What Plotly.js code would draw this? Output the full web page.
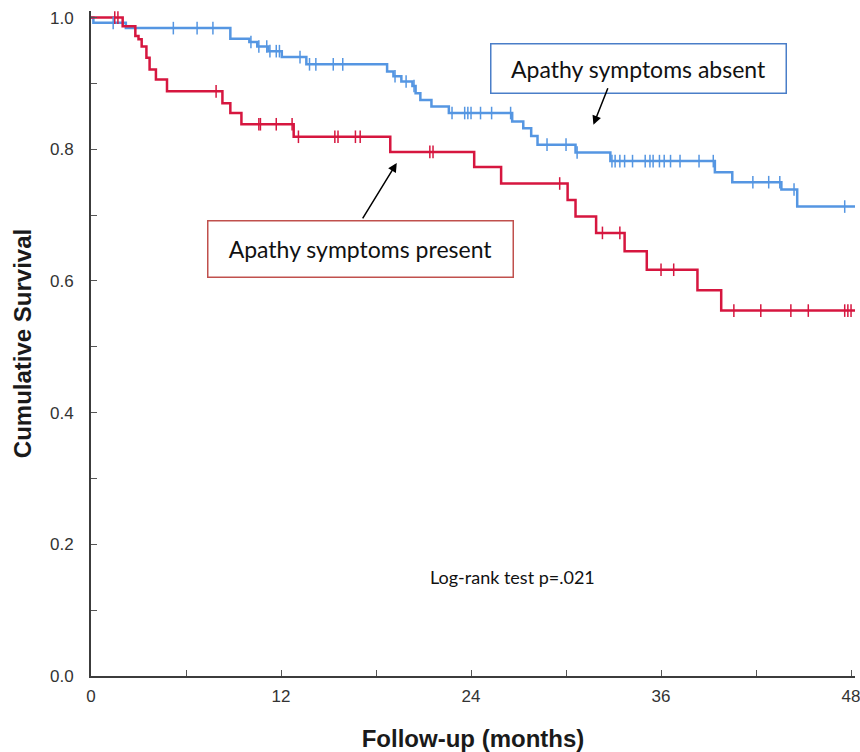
<!DOCTYPE html>
<html>
<head>
<meta charset="utf-8">
<script src="https://cdn.plot.ly/plotly-3.0.1.min.js"></script>
<style>
  html, body { margin: 0; padding: 0; background: #ffffff; }
  #chart { width: 860px; height: 752px; }
</style>
</head>
<body>
<div id="chart"></div>
<script>
// ---- Data ----
// Apathy symptoms absent: step times (months) and survival after each step
const absentTimes = [0, 0.15, 2.2, 8.8, 10.0, 10.5, 11.2, 12.05, 13.6, 18.7, 19.1, 19.6, 20.3, 20.5, 20.8, 21.5, 22.6, 26.6, 27.3, 27.8, 28.2, 30.6, 32.8, 39.4, 40.5, 43.6, 44.6, 48.25];
const absentSurv  = [1.0, 0.992, 0.984, 0.968, 0.963, 0.956, 0.949, 0.940, 0.929, 0.918, 0.911, 0.903, 0.896, 0.885, 0.875, 0.865, 0.855, 0.842, 0.832, 0.820, 0.807, 0.795, 0.782, 0.765, 0.750, 0.739, 0.713, 0.713];
const absentCensored = [1.4, 5.2, 6.7, 7.7, 10.1, 10.6, 11.1, 11.3, 11.7, 11.9, 13.2, 13.8, 14.2, 15.3, 15.9, 19.2, 19.9, 20.4, 22.8, 23.6, 23.8, 24.0, 24.6, 25.3, 26.5, 28.8, 30.0, 30.7, 32.9, 33.1, 33.4, 33.7, 34.2, 35.0, 35.3, 35.5, 35.9, 36.2, 36.6, 37.2, 38.4, 39.3, 41.8, 42.8, 43.5, 44.4, 47.6];

// Apathy symptoms present
const presentTimes = [0, 2.0, 2.8, 3.0, 3.2, 3.5, 3.7, 4.1, 4.8, 8.3, 8.8, 9.5, 12.8, 18.9, 24.2, 25.9, 30.1, 30.6, 31.9, 33.7, 35.1, 38.3, 39.8, 48.25];
const presentSurv  = [1.0, 0.987, 0.972, 0.967, 0.956, 0.939, 0.921, 0.906, 0.888, 0.870, 0.855, 0.838, 0.819, 0.796, 0.773, 0.748, 0.723, 0.698, 0.673, 0.645, 0.617, 0.586, 0.555, 0.555];
const presentCensored = [1.5, 1.7, 7.9, 10.6, 10.7, 11.7, 12.7, 13.1, 15.4, 15.6, 16.7, 17.0, 21.4, 21.6, 29.6, 32.3, 33.4, 36.0, 36.8, 40.6, 42.3, 44.2, 45.3, 47.6, 47.8, 48.0];

const xTickVals = [0, 12, 24, 36, 48];
const yTickVals = [0.0, 0.2, 0.4, 0.6, 0.8, 1.0];

const groupLabels = ['Apathy symptoms absent', 'Apathy symptoms present'];
const testLabel = 'Log-rank test p=.021';

// ---- helpers ----
function survAt(times, surv, t) {
  let v = surv[0];
  for (let i = 0; i < times.length; i++) { if (times[i] <= t) v = surv[i]; }
  return v;
}

const blue = '#5596e2';
const red = '#d6163f';

const traces = [
  { x: absentTimes, y: absentSurv, type: 'scatter', mode: 'lines',
    line: { shape: 'hv', color: blue, width: 2.5 }, hoverinfo: 'skip' },
  { x: presentTimes, y: presentSurv, type: 'scatter', mode: 'lines',
    line: { shape: 'hv', color: red, width: 2.5 }, hoverinfo: 'skip' },
  { x: absentCensored, y: absentCensored.map(t => survAt(absentTimes, absentSurv, t)),
    type: 'scatter', mode: 'markers', cliponaxis: false,
    marker: { symbol: 'line-ns', size: 9, line: { color: blue, width: 1.5 } }, hoverinfo: 'skip' },
  { x: presentCensored, y: presentCensored.map(t => survAt(presentTimes, presentSurv, t)),
    type: 'scatter', mode: 'markers', cliponaxis: false,
    marker: { symbol: 'line-ns', size: 9, line: { color: red, width: 1.5 } }, hoverinfo: 'skip' }
];

const axisFont = { family: 'Liberation Sans, Arial, sans-serif', size: 17, color: '#333333' };
const titleFont = { family: 'Liberation Sans, Arial, sans-serif', size: 24, color: '#1a1a1a', weight: 'bold' };
const noteFont = { family: 'Lato, Open Sans, sans-serif', size: 23, color: '#111111' };

const layout = {
  width: 860, height: 752,
  margin: { l: 91, r: 5, t: 11, b: 76, pad: 0 },
  paper_bgcolor: '#ffffff', plot_bgcolor: '#ffffff',
  showlegend: false, hovermode: false,
  xaxis: {
    range: [0, 48.25], tickvals: xTickVals, ticktext: xTickVals.map(String),
    showgrid: false, zeroline: false, showline: true, linecolor: '#3c3c3c', linewidth: 2,
    ticks: 'inside', ticklen: 6, tickwidth: 1, tickcolor: '#555555',
    minor: { dtick: 6, tick0: 0, ticks: 'inside', ticklen: 6, tickwidth: 1, tickcolor: '#555555', showgrid: false },
    tickfont: axisFont, ticklabelstandoff: 4, ticklabeloverflow: 'allow',
    title: { text: 'Follow-up (months)', font: titleFont, standoff: 26 }
  },
  yaxis: {
    range: [0, 1.01], tickvals: yTickVals, ticktext: yTickVals.map(v => v.toFixed(1)),
    showgrid: false, zeroline: false, showline: true, linecolor: '#3c3c3c', linewidth: 2,
    ticks: 'inside', ticklen: 6, tickwidth: 1, tickcolor: '#555555',
    minor: { dtick: 0.1, tick0: 0, ticks: 'inside', ticklen: 6, tickwidth: 1, tickcolor: '#555555', showgrid: false },
    tickfont: axisFont, ticklabelstandoff: 12, ticklabeloverflow: 'allow',
    title: { text: 'Cumulative Survival', font: titleFont, standoff: 12 }
  },
  annotations: [
    { x: 34.6, y: 0.922, xref: 'x', yref: 'y', text: groupLabels[0], showarrow: false,
      font: noteFont, bordercolor: '#4a7ec8', borderwidth: 1.5, borderpad: 2,
      width: 290, height: 44, bgcolor: '#ffffff' },
    { x: 31.73, y: 0.8373, xref: 'x', yref: 'y', text: '', showarrow: true,
      ax: 15, ay: -38, arrowhead: 2, arrowsize: 1.2, arrowwidth: 1.5, arrowcolor: '#000000' },
    { x: 17.04, y: 0.6486, xref: 'x', yref: 'y', text: groupLabels[1], showarrow: false,
      font: noteFont, bordercolor: '#c0504d', borderwidth: 1.5, borderpad: 2,
      width: 300, height: 51, bgcolor: '#ffffff' },
    { x: 19.31, y: 0.7792, xref: 'x', yref: 'y', text: '', showarrow: true,
      ax: -35, ay: 57, arrowhead: 2, arrowsize: 1.2, arrowwidth: 1.5, arrowcolor: '#000000' },
    { x: 26.6, y: 0.150, xref: 'x', yref: 'y', text: testLabel, showarrow: false,
      font: { family: 'Lato, Open Sans, sans-serif', size: 18, color: '#111111' } }
  ]
};

Plotly.newPlot('chart', traces, layout, { staticPlot: true, displayModeBar: false });
</script>
</body>
</html>
